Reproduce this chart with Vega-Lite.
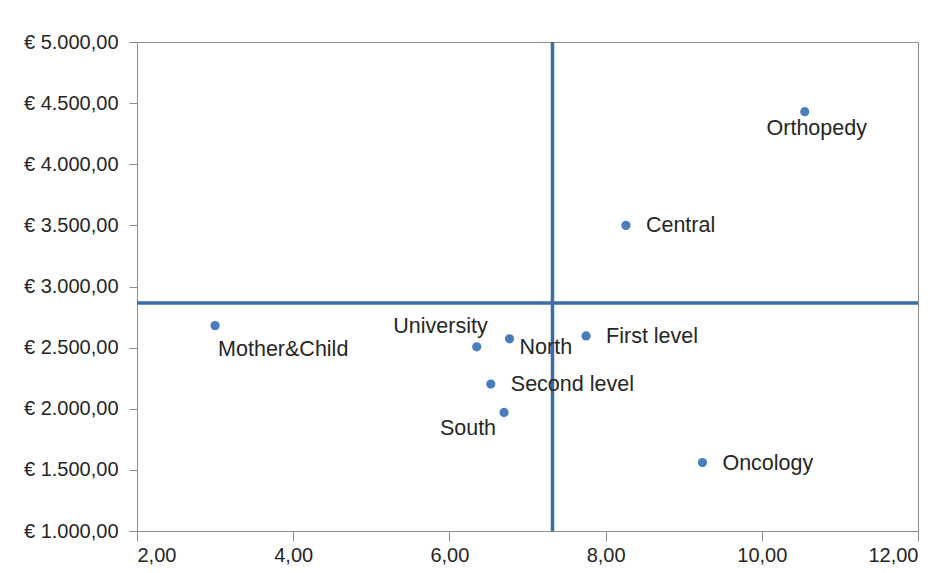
{
  "$schema": "https://vega.github.io/schema/vega-lite/v6.json",
  "width": 781,
  "height": 489,
  "autosize": {"type": "none"},
  "padding": {"left": 137, "top": 42, "right": 32, "bottom": 42},
  "background": "white",
  "config": {
    "view": {"stroke": "#8c8c8c", "strokeWidth": 1},
    "font": "Liberation Sans",
    "axis": {
      "domainColor": "#8c8c8c",
      "tickColor": "#8c8c8c",
      "labelColor": "#262626",
      "labelFont": "Liberation Sans",
      "labelFontSize": 20,
      "grid": false,
      "title": null
    }
  },
  "datasets": {
    "units": [
      {"unit": "Mother&Child", "index": 3.0, "cost": 2680},
      {"unit": "University", "index": 6.35, "cost": 2507},
      {"unit": "North", "index": 6.77, "cost": 2572},
      {"unit": "Second level", "index": 6.53, "cost": 2202},
      {"unit": "South", "index": 6.70, "cost": 1970},
      {"unit": "First level", "index": 7.75, "cost": 2596},
      {"unit": "Central", "index": 8.26, "cost": 3500},
      {"unit": "Orthopedy", "index": 10.55, "cost": 4430},
      {"unit": "Oncology", "index": 9.24, "cost": 1560}
    ],
    "refs": [
      {"refIndex": 7.32, "refCost": 2865}
    ]
  },
  "layer": [
    {
      "data": {"name": "refs"},
      "mark": {"type": "rule", "color": "#3c6ca8", "strokeWidth": 3.5},
      "encoding": {"x": {"field": "refIndex", "type": "quantitative", "scale": {"domain": [2, 12]}}}
    },
    {
      "data": {"name": "refs"},
      "mark": {"type": "rule", "color": "#3c6ca8", "strokeWidth": 3.5},
      "encoding": {"y": {"field": "refCost", "type": "quantitative", "scale": {"domain": [1000, 5000]}}}
    },
    {
      "data": {"name": "units"},
      "mark": {"type": "point", "filled": true, "opacity": 1, "color": "#4a7ebb", "size": 85},
      "encoding": {
        "x": {
          "field": "index", "type": "quantitative",
          "scale": {"domain": [2, 12], "nice": false, "zero": false},
          "axis": {"values": [2, 4, 6, 8, 10, 12], "tickSize": 10, "labelPadding": 4,
                   "labelExpr": "replace(format(datum.value, '.2f'), '.', ',')"}
        },
        "y": {
          "field": "cost", "type": "quantitative",
          "scale": {"domain": [1000, 5000], "nice": false, "zero": false},
          "axis": {"values": [1000, 1500, 2000, 2500, 3000, 3500, 4000, 4500, 5000], "tickSize": 8, "labelPadding": 11,
                   "labelExpr": "'€ ' + replace(replace(replace(format(datum.value, ',.2f'), ',', '_'), '.', ','), '_', '.')"}
        }
      }
    },
    {
      "data": {"name": "units"},
      "transform": [{"filter": "indexof(['Central','Oncology','First level','Second level'], datum.unit) >= 0"}],
      "mark": {"type": "text", "align": "left", "baseline": "middle", "dx": 20, "dy": 1, "fontSize": 21.5, "color": "#262626"},
      "encoding": {
        "x": {"field": "index", "type": "quantitative"},
        "y": {"field": "cost", "type": "quantitative"},
        "text": {"field": "unit"}
      }
    },
    {
      "data": {"name": "units"},
      "transform": [{"filter": "datum.unit === 'North'"}],
      "mark": {"type": "text", "align": "left", "baseline": "middle", "dx": 10, "dy": 9, "fontSize": 21.5, "color": "#262626"},
      "encoding": {
        "x": {"field": "index", "type": "quantitative"},
        "y": {"field": "cost", "type": "quantitative"},
        "text": {"field": "unit"}
      }
    },
    {
      "data": {"name": "units"},
      "transform": [{"filter": "datum.unit === 'Mother&Child'"}],
      "mark": {"type": "text", "align": "left", "baseline": "middle", "dx": 3, "dy": 24, "fontSize": 21.5, "color": "#262626"},
      "encoding": {
        "x": {"field": "index", "type": "quantitative"},
        "y": {"field": "cost", "type": "quantitative"},
        "text": {"field": "unit"}
      }
    },
    {
      "data": {"name": "units"},
      "transform": [{"filter": "datum.unit === 'University'"}],
      "mark": {"type": "text", "align": "right", "baseline": "middle", "dx": 11, "dy": -20, "fontSize": 21.5, "color": "#262626"},
      "encoding": {
        "x": {"field": "index", "type": "quantitative"},
        "y": {"field": "cost", "type": "quantitative"},
        "text": {"field": "unit"}
      }
    },
    {
      "data": {"name": "units"},
      "transform": [{"filter": "datum.unit === 'South'"}],
      "mark": {"type": "text", "align": "right", "baseline": "middle", "dx": -8, "dy": 17, "fontSize": 21.5, "color": "#262626"},
      "encoding": {
        "x": {"field": "index", "type": "quantitative"},
        "y": {"field": "cost", "type": "quantitative"},
        "text": {"field": "unit"}
      }
    },
    {
      "data": {"name": "units"},
      "transform": [{"filter": "datum.unit === 'Orthopedy'"}],
      "mark": {"type": "text", "align": "center", "baseline": "middle", "dx": 12, "dy": 17, "fontSize": 21.5, "color": "#262626"},
      "encoding": {
        "x": {"field": "index", "type": "quantitative"},
        "y": {"field": "cost", "type": "quantitative"},
        "text": {"field": "unit"}
      }
    }
  ]
}
